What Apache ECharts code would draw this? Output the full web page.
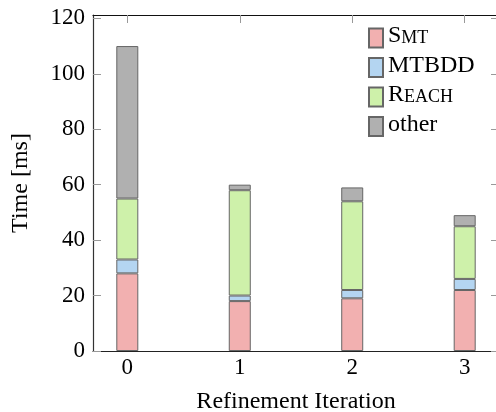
<!DOCTYPE html>
<html>
<head>
<meta charset="utf-8">
<script src="https://cdn.jsdelivr.net/npm/echarts@6/dist/echarts.min.js"></script>
<style>
  html, body { margin: 0; padding: 0; background: #fff; }
  #chart { width: 496px; height: 412px; }
</style>
</head>
<body>
<div id="chart"></div>
<script>
// Time spent per refinement iteration, split by component (ms)
const iterations = [0, 1, 2, 3];
const smt   = [28, 18, 19, 22];
const mtbdd = [5, 2, 3, 4];
const reach = [22, 38, 32, 19];
const other = [55, 2, 5, 4];
const yTicks = [0, 20, 40, 60, 80, 100, 120];

const FONT = 'Liberation Serif';
const STROKE = '#666';

// rows are [time, iteration]; the value comes first so stacking runs on time
function rows(values) {
  return values.map((v, i) => [v, iterations[i]]);
}

function barSeries(name, values, color) {
  return {
    name: name,
    type: 'bar',
    stack: 'total',
    barWidth: 22,
    encode: { x: 1, y: 0 },
    data: rows(values),
    itemStyle: { color: color, borderColor: STROKE, borderWidth: 1 }
  };
}

// legend labels, with small capitals for tool names
const legendText = {
  Smt: '{cap|S}{sc|MT}',
  MTBDD: '{cap|MTBDD}',
  Reach: '{cap|R}{sc|EACH}',
  other: '{cap|other}'
};

const xMin = -0.305, xMax = 3.305;
const yMin = 0, yMax = 121.2;

const tickStyle = { color: '#999', width: 1 };

function frameLine(color) {
  return { show: true, onZero: false, lineStyle: { color: color, width: 1.2 } };
}

const chart = echarts.init(document.getElementById('chart'), null, { renderer: 'canvas' });
chart.setOption({
  animation: false,
  backgroundColor: '#fff',
  grid: { left: 93, top: 15, width: 406, height: 336, containLabel: false, outerBoundsMode: 'none' },
  legend: {
    orient: 'vertical',
    left: 368,
    top: 24,
    padding: 0,
    itemWidth: 14,
    itemHeight: 19,
    itemGap: 5,
    icon: 'rect',
    data: ['Smt', 'MTBDD', 'Reach', 'other'],
    formatter: name => legendText[name],
    textStyle: {
      color: '#000',
      fontFamily: FONT,
      rich: {
        cap: { fontFamily: FONT, fontSize: 24, lineHeight: 20, color: '#000', verticalAlign: 'bottom' },
        sc: { fontFamily: FONT, fontSize: 18, lineHeight: 20, color: '#000', verticalAlign: 'bottom', padding: [0, 0, 1, 0] }
      }
    }
  },
  xAxis: [
    {
      type: 'value',
      position: 'bottom',
      min: xMin,
      max: xMax,
      name: 'Refinement Iteration',
      nameLocation: 'middle',
      nameGap: 39,
      nameTextStyle: { fontFamily: FONT, fontSize: 24, color: '#000' },
      axisLine: frameLine('#222'),
      axisTick: { show: true, inside: true, length: 8, customValues: iterations, lineStyle: tickStyle },
      axisLabel: { customValues: iterations, margin: 5, fontFamily: FONT, fontSize: 23, color: '#000' },
      splitLine: { show: false }
    },
    {
      type: 'value',
      position: 'top',
      min: xMin,
      max: xMax,
      axisLine: frameLine('#111'),
      axisTick: { show: true, inside: true, length: 8, customValues: iterations, lineStyle: tickStyle },
      axisLabel: { show: false },
      splitLine: { show: false }
    }
  ],
  yAxis: [
    {
      type: 'value',
      position: 'left',
      min: yMin,
      max: yMax,
      name: 'Time [ms]',
      nameLocation: 'middle',
      nameGap: 60,
      nameRotate: 90,
      nameTextStyle: { fontFamily: FONT, fontSize: 24, color: '#000' },
      axisLine: frameLine('#333'),
      axisTick: { show: true, inside: true, length: 8, customValues: yTicks, lineStyle: tickStyle },
      axisLabel: { customValues: yTicks, margin: 8, fontFamily: FONT, fontSize: 23, color: '#000' },
      splitLine: { show: false }
    },
    {
      type: 'value',
      position: 'right',
      min: yMin,
      max: yMax,
      axisLine: frameLine('#333'),
      axisTick: { show: true, inside: true, length: 8, customValues: yTicks, lineStyle: tickStyle },
      axisLabel: { show: false },
      splitLine: { show: false }
    }
  ],
  series: [
    barSeries('Smt', smt, '#f2b0b0'),
    barSeries('MTBDD', mtbdd, '#b4d5f1'),
    barSeries('Reach', reach, '#cef1aa'),
    barSeries('other', other, '#b0b0b0')
  ]
});
</script>
</body>
</html>
